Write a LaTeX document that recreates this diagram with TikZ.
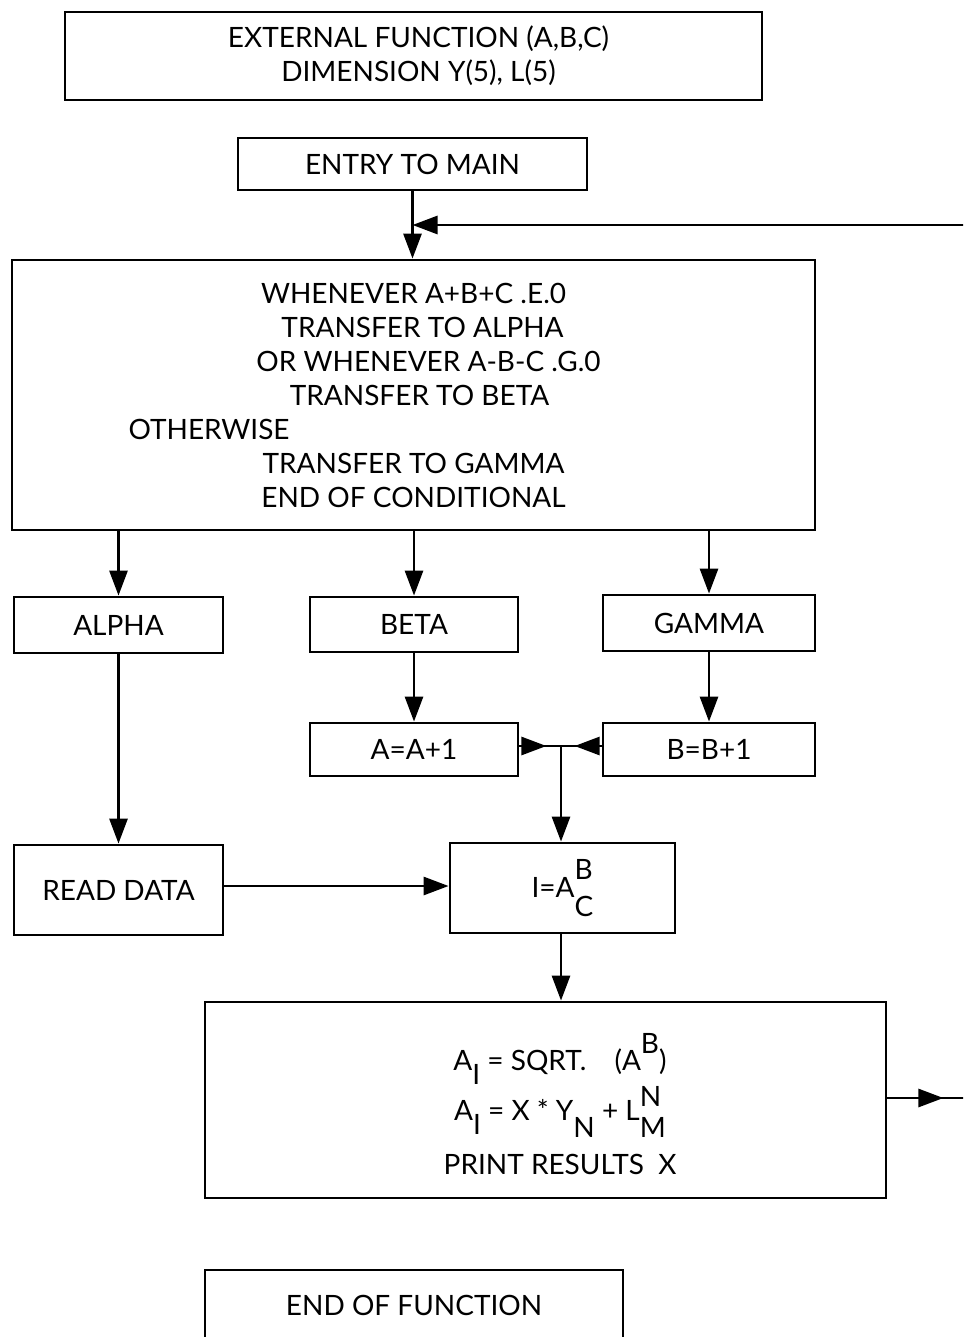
\documentclass[tikz,border=0pt]{standalone}
\usepackage{fontspec}
\setmainfont{Lato}
\usetikzlibrary{arrows.meta}
\newcommand{\rup}[2][16pt]{\raisebox{#1}{#2}}
\newcommand{\rdn}[2][-16pt]{\raisebox{#1}{#2}}
\tikzset{
  box/.style={draw, line width=2.8pt, inner sep=0pt, align=center,
    font=\fontsize{28}{34}\selectfont},
  txt/.style={inner sep=0pt, align=center, font=\fontsize{28}{34}\selectfont},
  arr/.style={line width=2.8pt, -{Triangle[length=25pt,width=18pt]}},
  ln/.style={line width=2.8pt},
}
\begin{document}
\begin{tikzpicture}[x=1pt,y=-1pt]
\useasboundingbox (0,0) rectangle (963,1337);
\clip (0,0) rectangle (963,1337);
\node[box, minimum width=697, minimum height=88] (ext) at (413.5,56)
  {\hspace*{10pt}EXTERNAL FUNCTION (A,B,C)\\\hspace*{10pt}DIMENSION Y(5), L(5)};
\node[box, minimum width=349, minimum height=52] (entry) at (412.5,164) {ENTRY TO MAIN};
\node[box, minimum width=803, minimum height=270] (cond) at (413.5,395)
  {WHENEVER A+B+C .E.0\\
   \hspace*{18pt}TRANSFER TO ALPHA\\
   \hspace*{30pt}OR WHENEVER A-B-C .G.0\\
   \hspace*{12pt}TRANSFER TO BETA\\
   \makebox[570pt][l]{OTHERWISE}\\
   TRANSFER TO GAMMA\\
   END OF CONDITIONAL};
\node[box, minimum width=209, minimum height=56] (alpha) at (118.5,625) {ALPHA};
\node[box, minimum width=208, minimum height=55] (beta) at (414,624.5) {BETA};
\node[box, minimum width=212, minimum height=56] (gamma) at (709,623) {GAMMA};
\node[box, minimum width=208, minimum height=53] (incA) at (414,749.5) {A=A+1};
\node[box, minimum width=212, minimum height=53] (incB) at (709,749.5) {B=B+1};
\node[box, minimum width=209, minimum height=90] (read) at (118.5,890) {READ DATA};
\node[box, minimum width=225, minimum height=90] (expI) at (562.5,888)
  {I=A\rlap{\rup[18pt]{B}}\rdn[-19pt]{C}};
\node[box, minimum width=681, minimum height=196] (calc) at (545.5,1100) {};
\node[txt] (calctext) at (560,1104)
  {A\rdn[-14pt]{I} = SQRT.\quad (A\rup[17pt]{B})\\[1pt]
   A\rdn[-14pt]{I} = X * Y\rdn[-17pt]{N} + L\rlap{\rup[14pt]{N}}\rdn[-17pt]{M}\\[16pt]
   PRINT RESULTS\ \ X};
\node[box, minimum width=418, minimum height=70] (endf) at (414,1305) {END OF FUNCTION};
\coordinate (offR1) at (975,225);
\coordinate (offR2) at (975,1098);
\coordinate (jn) at (561,746);
% connectors
\draw[arr] (entry.south) -- (entry.south |- cond.north);
\draw[arr] (offR1) -- (offR1 -| entry.south);
\draw[arr] (cond.south -| alpha.north) -- (alpha.north);
\draw[arr] (cond.south -| beta.north) -- (beta.north);
\draw[arr] (cond.south -| gamma.north) -- (gamma.north);
\draw[arr] (beta.south) -- (incA.north);
\draw[arr] (gamma.south) -- (incB.north);
\draw[ln] (incA.east |- jn) -- (jn);
\draw[ln] (incB.west |- jn) -- (jn);
\draw[arr] (incA.east |- jn) -- ++(27,0);
\draw[arr] (incB.west |- jn) -- ++(-27,0);
\draw[arr] (jn) -- (jn |- expI.north);
\draw[arr] (alpha.south) -- (read.north);
\draw[arr] (read.east |- 0,886) -- (expI.west |- 0,886);
\draw[arr] (expI.south -| jn) -- (jn |- calc.north);
\draw[ln] (calc.east |- offR2) -- (offR2);
\draw[arr] (calc.east |- offR2) -- ++(56,0);
\end{tikzpicture}
\end{document}
